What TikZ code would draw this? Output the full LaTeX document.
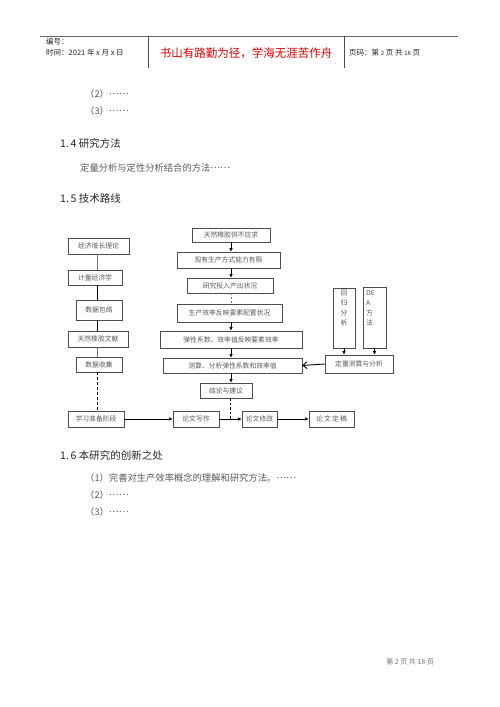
\documentclass[tikz,border=0pt]{standalone}
\usepackage{fontspec}
\setmainfont{Liberation Sans}
\newfontfamily\cjk{Noto Sans CJK SC}
\usetikzlibrary{arrows.meta}
\definecolor{txt}{gray}{0.35}
\definecolor{hd}{gray}{0.15}
\newcommand\mydots{\raisebox{0.28em}{……}}
\begin{document}
\begin{tikzpicture}[x=1pt,y=-1pt,
  bx/.style={draw=black!70, line width=0.6pt, inner sep=0pt, font=\cjk\fontsize{6.8}{8}\selectfont, text=txt},
  vt/.style={inner sep=0pt, font=\cjk\fontsize{6.8}{10}\selectfont, text=txt, align=center},
  ln/.style={line width=0.9pt, draw=black},
  gln/.style={line width=0.5pt, draw=black!55},
  arr/.style={line width=0.9pt, -{Latex[length=3.5pt,width=3.5pt]}},
  body/.style={inner sep=0pt, anchor=west, font=\cjk\fontsize{9.3}{11}\selectfont, text=txt},
  head/.style={inner sep=0pt, anchor=west, font=\cjk\fontsize{10.5}{12}\selectfont, text=hd},
  hdr/.style={inner sep=0pt, font=\cjk\fontsize{7.5}{9}\selectfont, text=hd}
]
\useasboundingbox (0,0) rectangle (500,707);
\fill[white] (0,0) rectangle (500,707);

% header
\draw[line width=0.8pt, black!60] (40,36) -- (458,36);
\draw[line width=0.5pt, black!70] (148,36) -- (148,68);
\draw[line width=0.5pt, black!70] (344,36) -- (344,68);
\node[hdr, anchor=west] (h1) at (46,42) {编号：};
\node[hdr, anchor=west] (h2) at (46,53) {时间：2021 年 x 月 x 日};
\node[inner sep=0pt, font=\cjk\fontsize{11.5}{13}\selectfont, text=red!85!black] (h3) at (246,53) {书山有路勤为径，学海无涯苦作舟};
\node[hdr, anchor=west] (h4) at (349,53) {页码：第 {\fontsize{6}{7}\selectfont 2} 页 共 {\fontsize{6}{7}\selectfont 18} 页};

% body text
\node[body] (t1) at (85,94) {（2）\mydots};
\node[body] (t2) at (85,111) {（3）\mydots};
\node[head] (s14) at (60,143) {1.\,4 研究方法};
\node[body] (t3) at (80,168) {定量分析与定性分析结合的方法\mydots};
\node[head] (s15) at (60,199) {1.\,5 技术路线};

% left column
\node[bx, minimum width=61pt, minimum height=16pt] (n1) at (98.5,246) {经济增长理论};
\node[bx, minimum width=54pt, minimum height=15pt] (n2) at (95,277.5) {计量经济学};
\node[bx, minimum width=46pt, minimum height=20pt, line width=0.9pt] (n3) at (99,310) {数据包络};
\node[bx, minimum width=60pt, minimum height=16pt] (n4) at (98,339) {天然橡胶文献};
\node[bx, minimum width=46pt, minimum height=15pt] (n5) at (99,364.5) {数据收集};
\node[bx, minimum width=56pt, minimum height=16pt] (n6) at (96,419) {学习准备阶段};
\coordinate (lx) at (97,0);
\draw[gln] (n1.south -| lx) -- (n2.north -| lx);
\draw[ln] (n2.south -| lx) -- (n3.north -| lx);
\draw[ln] (n3.south -| lx) -- (n4.north -| lx);
\draw[gln] (n4.south -| lx) -- (n5.north -| lx);
\draw[ln, dashed, dash pattern=on 3pt off 2pt] (n5.south -| lx) -- (n6.north -| lx);

% main column
\node[bx, minimum width=78pt, minimum height=14pt] (m1) at (231,235) {天然橡胶供不应求};
\node[bx, minimum width=103pt, minimum height=16pt] (m2) at (228.5,260) {现有生产方式能力有限};
\node[bx, minimum width=86pt, minimum height=15pt] (m3) at (230,285.5) {研究投入产出状况};
\node[bx, minimum width=105pt, minimum height=18pt] (m4) at (229.5,313) {生产效率反映要素配置状况};
\node[bx, minimum width=142pt, minimum height=17pt] (m5) at (231,339.5) {弹性系数、效率值反映要素效率};
\node[bx, minimum width=139pt, minimum height=15pt] (m6) at (232.5,365.5) {测算、分析弹性系数和效率值};
\node[bx, minimum width=52pt, minimum height=15pt] (m7) at (226,390.5) {结论与建议};
\node[bx, minimum width=46pt, minimum height=16pt] (w1) at (196,419) {论文写作};
\node[bx, minimum width=35pt, minimum height=16pt] (w2) at (259.5,419) {论文修改};
\node[bx, minimum width=45pt, minimum height=16pt] (w3) at (331.5,419) {论\,文\,定\,稿};
\coordinate (mx) at (231,0);
\draw[arr] (m1.south -| mx) -- (m2.north -| mx);
\draw[arr] (m2.south -| mx) -- (m3.north -| mx);
\draw[gln, dashed, dash pattern=on 2pt off 2pt] (m3.south -| mx) -- (m4.north -| mx);
\draw[arr] (m4.south -| mx) -- (m5.north -| mx);
\draw[arr] (m5.south -| mx) -- (m6.north -| mx);
\draw[arr] (m6.south -| mx) -- (m7.north -| mx);
\coordinate (dj) at (230,419);
\draw[ln, dashed, dash pattern=on 2.5pt off 2pt] (m7.south -| dj) -- (dj);
\draw[arr] (n6.east) -- (w1.west);
\draw[arr] (w1.east) -- (w2.west);
\draw[arr] (w2.east) -- (w3.west);

% right side
\node[bx, minimum width=22pt, minimum height=60pt] (r) at (344,318) {};
\node[vt, anchor=north] (rt) at (344,290) {回\\归\\分\\析};
\node[bx, minimum width=23pt, minimum height=61pt, line width=0.9pt] (d) at (374.5,317.5) {};
\node[vt, anchor=north west, align=left] (dt) at (366,290) {DE\\A\\方\\法};
\node[bx, minimum width=68pt, minimum height=18pt] (q) at (359,364) {定量测算与分析};
\draw[arr] (r.south) -- (r.south |- q.north);
\draw[arr] (d.south) -- (d.south |- q.north);
\draw[line width=0.9pt, -{Straight Barb[length=4pt,width=7pt]}] (q.west) -- (m6.east);

% section 1.6
\node[head] (s16) at (60,455) {1.\,6 本研究的创新之处};
\node[body] (t4) at (85,478) {（1）完善对生产效率概念的理解和研究方法。\mydots};
\node[body] (t5) at (85,495) {（2）\mydots};
\node[body] (t6) at (85,512) {（3）\mydots};

% footer
\node[inner sep=0pt, font=\cjk\fontsize{7}{8}\selectfont, text=black!55] (ft) at (410,662) {第 2 页 共 18 页};
\end{tikzpicture}
\end{document}
